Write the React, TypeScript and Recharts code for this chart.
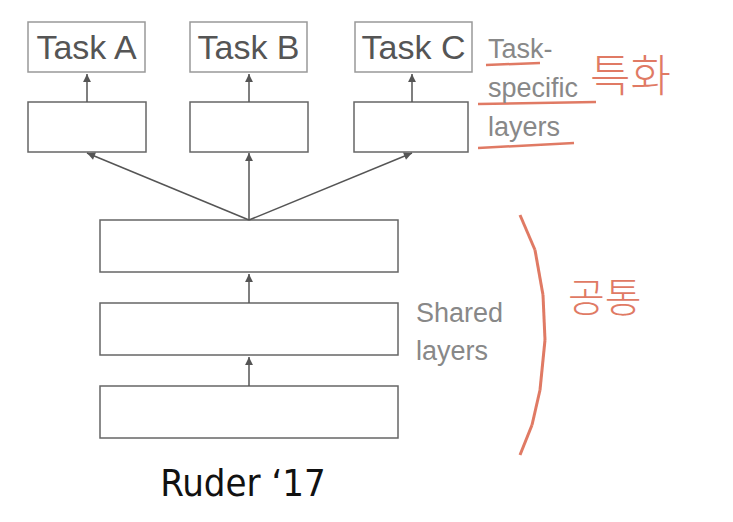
import React from "react";
import { ScatterChart, Scatter, XAxis, YAxis, ReferenceLine } from "recharts";

// diagram layout values (in image units)
const taskBoxes = [
  { x: 28, y: 22, w: 117, h: 50, label: "Task A" },
  { x: 190, y: 22, w: 117, h: 50, label: "Task B" },
  { x: 355, y: 22, w: 117, h: 50, label: "Task C" },
];
const layerBoxes = [
  { x: 28, y: 102, w: 118, h: 50, label: "" },
  { x: 190, y: 102, w: 118, h: 50, label: "" },
  { x: 354, y: 102, w: 114, h: 50, label: "" },
  { x: 100, y: 220, w: 298, h: 52, label: "" },
  { x: 100, y: 303, w: 298, h: 52, label: "" },
  { x: 100, y: 386, w: 298, h: 52, label: "" },
];
const arrows = [
  { fx: 87, fy: 102, x: 87, y: 74 },
  { fx: 249, fy: 102, x: 249, y: 74 },
  { fx: 412, fy: 102, x: 412, y: 74 },
  { fx: 249, fy: 220, x: 87, y: 153 },
  { fx: 249, fy: 220, x: 249, y: 153 },
  { fx: 249, fy: 220, x: 412, y: 153 },
  { fx: 249, fy: 303, x: 249, y: 274 },
  { fx: 249, fy: 386, x: 249, y: 357 },
];
const grayTexts = [
  { x: 488, y: 58, label: "Task-" },
  { x: 488, y: 97, label: "specific" },
  { x: 488, y: 136, label: "layers" },
  { x: 416, y: 322, label: "Shared" },
  { x: 416, y: 360, label: "layers" },
];
const redTexts = [
  { x: 590, y: 92, label: "특화", size: 44 },
  { x: 568, y: 312, label: "공통", size: 40 },
];
const redUnderlines = [
  { x1: 486, y1: 65, x2: 540, y2: 63 },
  { x1: 478, y1: 104, x2: 596, y2: 102 },
  { x1: 478, y1: 148, x2: 574, y2: 143 },
];
const caption = [{ x: 243, y: 496, label: "Ruder \u201817" }];

const W = 733;
const H = 522;

const BoxShape = (p: any) => {
  const d = p.payload;
  return (
    <g>
      <rect x={p.cx} y={p.cy} width={d.w} height={d.h} fill="#fff" stroke={d.label ? "#999" : "#666"} strokeWidth={1.5} />
      {d.label && (
        <text x={p.cx + d.w / 2} y={p.cy + d.h / 2 + 12} textAnchor="middle" fontSize={34} fill="#555" fontFamily="Liberation Sans">
          {d.label}
        </text>
      )}
    </g>
  );
};

const ArrowShape = (p: any) => {
  const d = p.payload;
  const sx = p.cx + (d.fx - d.x);
  const sy = p.cy + (d.fy - d.y);
  const ang = Math.atan2(p.cy - sy, p.cx - sx);
  const L = 9, A = 0.45;
  const pts = [
    [p.cx, p.cy],
    [p.cx - L * Math.cos(ang - A), p.cy - L * Math.sin(ang - A)],
    [p.cx - L * Math.cos(ang + A), p.cy - L * Math.sin(ang + A)],
  ];
  return (
    <g>
      <line x1={sx} y1={sy} x2={p.cx} y2={p.cy} stroke="#555" strokeWidth={1.5} />
      <polygon points={pts.map((q) => q.join(",")).join(" ")} fill="#555" />
    </g>
  );
};

const GrayText = (p: any) => (
  <text x={p.cx} y={p.cy} fontSize={27} fill="#888" fontFamily="Liberation Sans">{p.payload.label}</text>
);
const RedText = (p: any) => (
  <text x={p.cx} y={p.cy} fontSize={p.payload.size} fill="#e07a64" fontFamily="Noto Sans CJK KR" fontWeight={300}>{p.payload.label}</text>
);
const Caption = (p: any) => (
  <text x={p.cx} y={p.cy} fontSize={38} fill="#111" fontFamily="DejaVu Sans Condensed" fontWeight={400} textAnchor="middle">{p.payload.label}</text>
);

export default function App() {
  return (
    <div style={{ margin: -8, background: "#fff", width: W, height: H }}>
      <ScatterChart width={W} height={H} margin={{ top: 0, right: 0, bottom: 0, left: 0 }}>
        <XAxis type="number" dataKey="x" domain={[0, W]} hide />
        <YAxis type="number" dataKey="y" domain={[0, H]} reversed hide />
        {redUnderlines.map((u, i) => (
          <ReferenceLine key={i} segment={[{ x: u.x1, y: u.y1 }, { x: u.x2, y: u.y2 }]} stroke="#e07a64" strokeWidth={2.5} />
        ))}
        <ReferenceLine segment={[{ x: 520, y: 215 }, { x: 535, y: 250 }]} stroke="#e07a64" strokeWidth={3} />
        <ReferenceLine segment={[{ x: 535, y: 250 }, { x: 543, y: 295 }]} stroke="#e07a64" strokeWidth={3} />
        <ReferenceLine segment={[{ x: 543, y: 295 }, { x: 545, y: 340 }]} stroke="#e07a64" strokeWidth={3} />
        <ReferenceLine segment={[{ x: 545, y: 340 }, { x: 540, y: 390 }]} stroke="#e07a64" strokeWidth={3} />
        <ReferenceLine segment={[{ x: 540, y: 390 }, { x: 532, y: 425 }]} stroke="#e07a64" strokeWidth={3} />
        <ReferenceLine segment={[{ x: 532, y: 425 }, { x: 520, y: 455 }]} stroke="#e07a64" strokeWidth={3} />
        <Scatter data={[...taskBoxes, ...layerBoxes]} shape={BoxShape} isAnimationActive={false} />
        <Scatter data={arrows} shape={ArrowShape} isAnimationActive={false} />
        <Scatter data={grayTexts} shape={GrayText} isAnimationActive={false} />
        <Scatter data={redTexts} shape={RedText} isAnimationActive={false} />
        <Scatter data={caption} shape={Caption} isAnimationActive={false} />
      </ScatterChart>
    </div>
  );
}
